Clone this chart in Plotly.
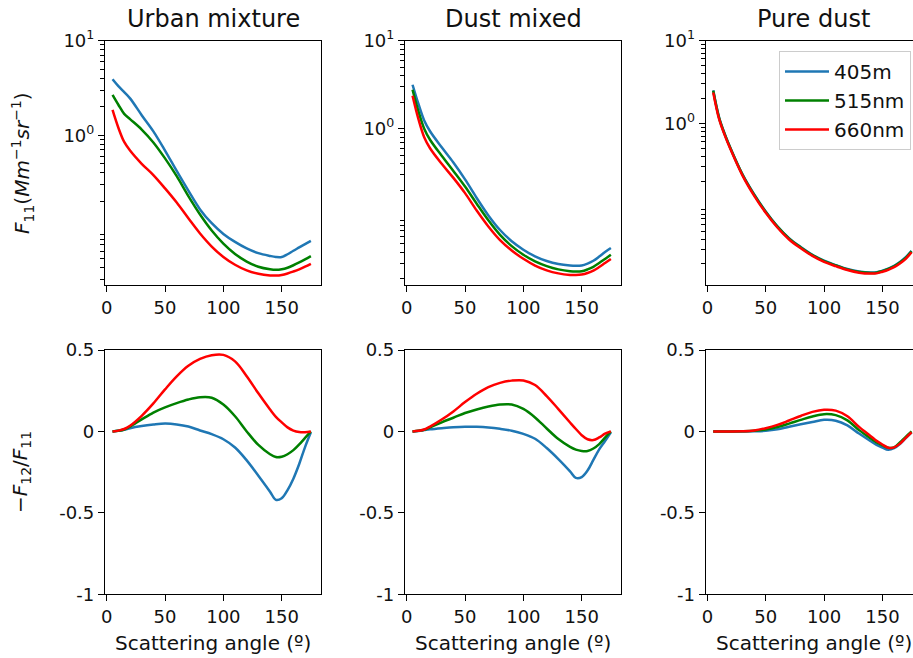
import plotly.graph_objects as go

W, H = 913, 658

# ---------------- data ----------------
ANGLE = [5, 10, 15, 20, 30, 40, 50, 60, 70, 80, 90, 100, 110, 120, 130, 140,
         145, 150, 155, 160, 165, 170, 175]

WAVELENGTHS = ["405m", "515nm", "660nm"]
COLORS = ["#1f77b4", "#008000", "#ff0000"]
TITLES = ["Urban mixture", "Dust mixed", "Pure dust"]

# F11 phase function
URBAN_F11_405 = [3.9, 3.3, 2.85, 2.45, 1.63, 1.1, 0.69, 0.42, 0.26, 0.165, 0.118, 0.091, 0.075,
                 0.064, 0.057, 0.0533, 0.052, 0.052, 0.0555, 0.0605, 0.0655, 0.071, 0.077]
URBAN_F11_515 = [2.67, 2.1, 1.68, 1.48, 1.15, 0.84, 0.57, 0.37, 0.228, 0.146, 0.099, 0.072, 0.056,
                 0.0465, 0.041, 0.0385, 0.038, 0.0385, 0.040, 0.0425, 0.0455, 0.049, 0.053]
URBAN_F11_660 = [1.85, 1.2, 0.85, 0.69, 0.5, 0.38, 0.275, 0.195, 0.133, 0.092, 0.067, 0.052, 0.043,
                 0.0375, 0.0345, 0.0332, 0.0331, 0.0336, 0.0348, 0.0365, 0.0385, 0.041, 0.044]

DUSTMIX_F11_405 = [3.15, 1.92, 1.24, 0.935, 0.615, 0.413, 0.266, 0.164, 0.104, 0.071, 0.053, 0.0425,
                   0.0357, 0.0316, 0.0292, 0.0281, 0.0279, 0.0282, 0.0296, 0.0318, 0.0355, 0.040, 0.0444]
DUSTMIX_F11_515 = [2.76, 1.58, 1.0, 0.75, 0.494, 0.332, 0.221, 0.141, 0.0914, 0.0625, 0.0466, 0.0372,
                   0.0313, 0.0277, 0.0254, 0.0242, 0.0240, 0.0242, 0.0254, 0.0272, 0.030, 0.0334, 0.0372]
DUSTMIX_F11_660 = [2.36, 1.29, 0.80, 0.60, 0.40, 0.277, 0.186, 0.118, 0.0778, 0.0545, 0.0416, 0.0335,
                   0.0281, 0.0248, 0.0229, 0.0220, 0.0219, 0.0222, 0.0231, 0.0246, 0.027, 0.030, 0.0333]

PURE_F11_405 = [2.50, 1.18, 0.735, 0.494, 0.243, 0.139, 0.086, 0.057, 0.041, 0.032, 0.0258, 0.0219,
                0.0194, 0.0174, 0.0162, 0.01575, 0.0159, 0.0166, 0.0176, 0.019, 0.0211, 0.0241, 0.0288]
PURE_F11_515 = [2.47, 1.165, 0.727, 0.489, 0.241, 0.1375, 0.085, 0.0564, 0.0405, 0.0317, 0.0256, 0.0217,
                0.0192, 0.0172, 0.0160, 0.0156, 0.0157, 0.0164, 0.0174, 0.0187, 0.0208, 0.0237, 0.0284]
PURE_F11_660 = [2.36, 1.13, 0.71, 0.478, 0.235, 0.134, 0.083, 0.0551, 0.0395, 0.0309, 0.025, 0.0212,
                0.0188, 0.0169, 0.0157, 0.0153, 0.0154, 0.0161, 0.017, 0.0183, 0.0203, 0.0231, 0.0277]

# -F12/F11 degree of linear polarization
URBAN_POL_405 = [0, 0.004, 0.01, 0.02, 0.033, 0.042, 0.048, 0.043, 0.03, 0.006, -0.017, -0.048, -0.099,
                 -0.178, -0.272, -0.37, -0.42, -0.41, -0.36, -0.29, -0.2, -0.096, -0.005]
URBAN_POL_515 = [0, 0.004, 0.012, 0.03, 0.074, 0.116, 0.148, 0.174, 0.196, 0.21, 0.207, 0.165, 0.093,
                 0.0, -0.083, -0.14, -0.157, -0.155, -0.14, -0.115, -0.08, -0.04, 0]
URBAN_POL_660 = [0, 0.005, 0.015, 0.035, 0.096, 0.172, 0.258, 0.338, 0.403, 0.445, 0.468, 0.47, 0.43,
                 0.339, 0.234, 0.135, 0.09, 0.056, 0.025, 0.005, -0.004, -0.005, 0]

DUSTMIX_POL_405 = [0, 0.003, 0.008, 0.013, 0.02, 0.026, 0.029, 0.028, 0.024, 0.016, 0.0045, -0.015, -0.045,
                   -0.102, -0.17, -0.245, -0.285, -0.28, -0.24, -0.175, -0.11, -0.059, -0.005]
DUSTMIX_POL_515 = [0, 0.004, 0.01, 0.025, 0.056, 0.084, 0.113, 0.135, 0.153, 0.165, 0.165, 0.138, 0.086,
                   0.018, -0.047, -0.095, -0.112, -0.12, -0.12, -0.105, -0.078, -0.038, 0]
DUSTMIX_POL_660 = [0, 0.004, 0.012, 0.03, 0.073, 0.123, 0.18, 0.231, 0.272, 0.298, 0.312, 0.313, 0.285,
                   0.217, 0.137, 0.055, 0.015, -0.023, -0.048, -0.053, -0.037, -0.014, 0]

PURE_POL_405 = [0, 0, 0, 0, 0, 0.001, 0.004, 0.013, 0.029, 0.044, 0.058, 0.071, 0.066,
                0.037, -0.013, -0.06, -0.082, -0.099, -0.113, -0.103, -0.077, -0.041, -0.005]
PURE_POL_515 = [0, 0, 0, 0, 0.001, 0.004, 0.012, 0.027, 0.048, 0.071, 0.092, 0.106, 0.1,
                0.068, 0.008, -0.043, -0.067, -0.085, -0.1, -0.098, -0.067, -0.033, 0]
PURE_POL_660 = [0, 0, 0, 0, 0.001, 0.006, 0.02, 0.04, 0.067, 0.095, 0.12, 0.133, 0.128,
                0.093, 0.028, -0.029, -0.058, -0.08, -0.1, -0.098, -0.075, -0.04, -0.005]

F11 = [[URBAN_F11_405, URBAN_F11_515, URBAN_F11_660],
       [DUSTMIX_F11_405, DUSTMIX_F11_515, DUSTMIX_F11_660],
       [PURE_F11_405, PURE_F11_515, PURE_F11_660]]
POL = [[URBAN_POL_405, URBAN_POL_515, URBAN_POL_660],
       [DUSTMIX_POL_405, DUSTMIX_POL_515, DUSTMIX_POL_660],
       [PURE_POL_405, PURE_POL_515, PURE_POL_660]]

X_TICKS = [0, 50, 100, 150]
X_TICK_LABELS = ["0", "50", "100", "150"]
F11_TICKS = [1, 10]
F11_TICK_LABELS = ["10<sup>0</sup>", "10<sup>1</sup>"]
F11_MINOR = [m * 10.0 ** e for e in (-2, -1, 0) for m in range(2, 10)]
POL_TICKS = [0.5, 0, -0.5, -1]
POL_TICK_LABELS = ["0.5", "0", "-0.5", "-1"]

# ---------------- layout geometry (pixels) ----------------
FONT = "DejaVu Sans"
COL_LEFT = [105, 405, 705.7]
PANEL_W = 216.3
PX_PER_DEG = 1.1667
X_MIN = -1.46
TOP_ROW = (40.5, 285.0)
BOT_ROW = (350.0, 594.3)
F11_LOG_MIN = [-1.58, -1.772, -1.953]


def px_x(p):
    return p / W


def px_y(p):
    return 1 - p / H


fig = go.Figure()

for c in range(3):
    for r in range(2):
        idx = r * 3 + c + 1
        xa = "x" if idx == 1 else f"x{idx}"
        ya = "y" if idx == 1 else f"y{idx}"
        data = F11[c] if r == 0 else POL[c]
        for k in range(3):
            fig.add_trace(go.Scatter(
                x=ANGLE, y=data[k], mode="lines",
                line=dict(color=COLORS[k], width=2.5, shape="spline", smoothing=1.0),
                name=WAVELENGTHS[k], legendgroup=WAVELENGTHS[k],
                showlegend=(idx == 3),
                xaxis=xa, yaxis=ya,
            ))

axis_common = dict(
    showline=True, linecolor="black", linewidth=1.2,
    ticks="outside", ticklen=6, tickwidth=1.2, tickcolor="black",
    showgrid=False, zeroline=False, automargin=False,
    tickfont=dict(family=FONT, size=18, color="#111"),
)

layout = dict(
    width=W, height=H,
    margin=dict(l=0, r=0, t=0, b=0, pad=0, autoexpand=False),
    paper_bgcolor="white", plot_bgcolor="white",
    font=dict(family=FONT, color="#111"),
    showlegend=True,
    legend=dict(
        x=px_x(911), y=px_y(51), xanchor="right", yanchor="top",
        bordercolor="#cccccc", borderwidth=1, bgcolor="rgba(255,255,255,0.85)",
        font=dict(family=FONT, size=20, color="#111"),
        itemwidth=44, tracegroupgap=0,
    ),
)

for c in range(3):
    left = COL_LEFT[c]
    right = min(left + PANEL_W, W)
    x_max = X_MIN + (right - left) / PX_PER_DEG
    clipped = (left + PANEL_W) > W
    for r in range(2):
        idx = r * 3 + c + 1
        xkey = "xaxis" if idx == 1 else f"xaxis{idx}"
        ykey = "yaxis" if idx == 1 else f"yaxis{idx}"
        ya_name = "y" if idx == 1 else f"y{idx}"
        xa_name = "x" if idx == 1 else f"x{idx}"
        row = TOP_ROW if r == 0 else BOT_ROW
        layout[xkey] = dict(
            axis_common, domain=[px_x(left), px_x(right)], anchor=ya_name,
            range=[X_MIN, x_max], tickmode="array", tickvals=X_TICKS, ticktext=X_TICK_LABELS,
            mirror=True,
        )
        ydict = dict(
            axis_common, domain=[px_y(row[1]), px_y(row[0])], anchor=xa_name,
            mirror=(not clipped),
        )
        if r == 0:
            ydict.update(type="log", range=[F11_LOG_MIN[c], 1],
                         tickmode="array", tickvals=F11_TICKS, ticktext=F11_TICK_LABELS,
                         minor=dict(tickmode="array", tickvals=F11_MINOR, ticks="outside",
                                    ticklen=3.5, tickwidth=1, tickcolor="black", showgrid=False))
        else:
            ydict.update(range=[-1, 0.5], tickmode="array", tickvals=POL_TICKS,
                         ticktext=POL_TICK_LABELS)
        layout[ykey] = ydict

annotations = []
for c in range(3):
    center = COL_LEFT[c] + PANEL_W / 2
    annotations.append(dict(
        text=TITLES[c], x=px_x(center), y=px_y(19), xref="paper", yref="paper",
        xanchor="center", yanchor="middle", showarrow=False,
        font=dict(family=FONT, size=24, color="#111"),
    ))
    annotations.append(dict(
        text="Scattering angle (º)", x=px_x(center), y=px_y(643), xref="paper", yref="paper",
        xanchor="center", yanchor="middle", showarrow=False,
        font=dict(family=FONT, size=20, color="#111"),
    ))

annotations.append(dict(
    text="<i>F</i><sub>11</sub>(<i>Mm</i><sup>−1</sup><i>sr</i><sup>−1</sup>)",
    x=px_x(23), y=px_y(163), xref="paper", yref="paper", textangle=-90,
    xanchor="center", yanchor="middle", showarrow=False,
    font=dict(family=FONT, size=20, color="#111"),
))
annotations.append(dict(
    text="−<i>F</i><sub>12</sub>/<i>F</i><sub>11</sub>",
    x=px_x(21), y=px_y(472), xref="paper", yref="paper", textangle=-90,
    xanchor="center", yanchor="middle", showarrow=False,
    font=dict(family=FONT, size=20, color="#111"),
))
layout["annotations"] = annotations

fig.update_layout(**layout)
fig.write_html("out.html")
